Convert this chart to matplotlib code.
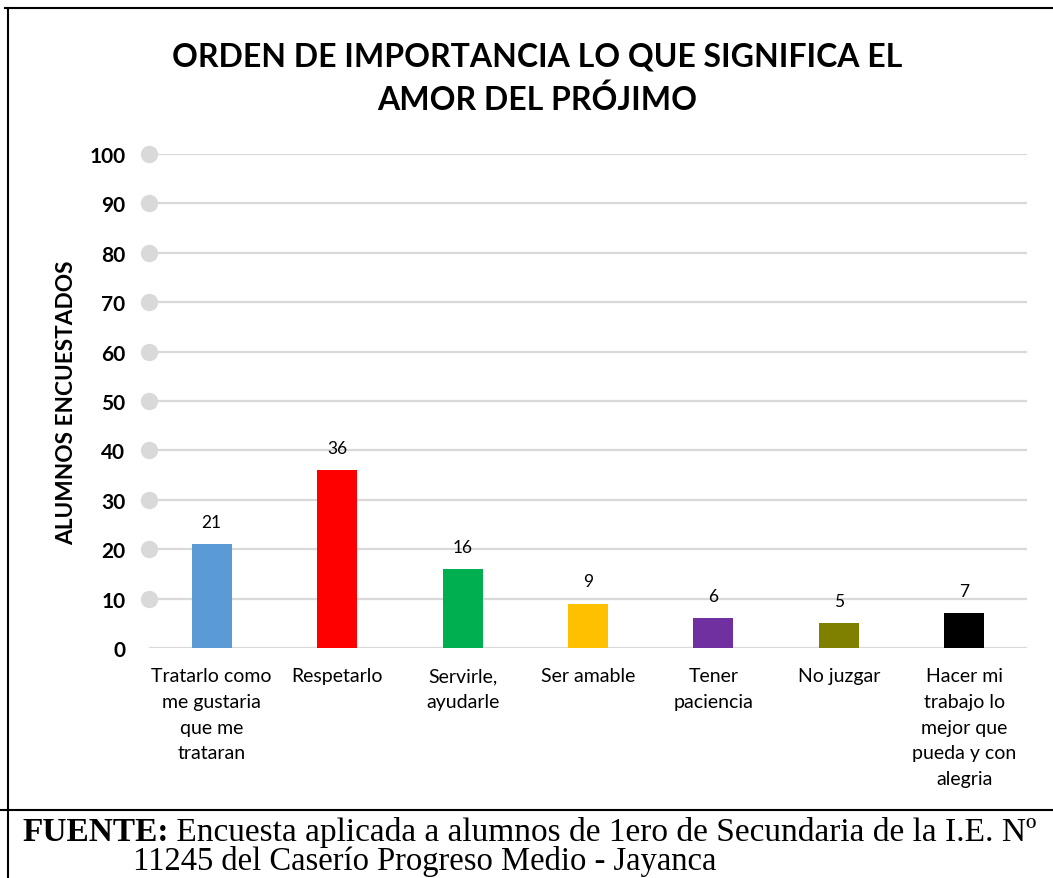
import matplotlib
matplotlib.use("Agg")
import matplotlib.pyplot as plt
from matplotlib.lines import Line2D

categories = ["Tratarlo como\nme gustaria\nque me\ntrataran", "Respetarlo", "Servirle,\nayudarle",
              "Ser amable", "Tener\npaciencia", "No juzgar",
              "Hacer mi\ntrabajo lo\nmejor que\npueda y con\nalegria"]
values = [21, 36, 16, 9, 6, 5, 7]
colors = ["#5B9BD5", "#FF0000", "#00B050", "#FFC000", "#7030A0", "#808000", "#000000"]
yticks = [0, 10, 20, 30, 40, 50, 60, 70, 80, 90, 100]
title_lines = ["ORDEN DE IMPORTANCIA LO QUE SIGNIFICA EL", "AMOR DEL PRÓJIMO"]
ylabel = "ALUMNOS ENCUESTADOS"
footer_bold = "FUENTE:"
footer_rest = " Encuesta aplicada a alumnos de 1ero de Secundaria de la I.E. Nº"
footer_line2 = "11245 del Caserío Progreso Medio - Jayanca"

W, H = 1053, 879
fig = plt.figure(figsize=(W / 100, H / 100), dpi=100)
SANS = ["Lato", "DejaVu Sans"]
SERIF = ["Liberation Serif", "DejaVu Serif"]

def fx(px):
    return px / W

def fy(py):
    return 1 - py / H

ax = fig.add_axes([fx(149), fy(649), fx(1027) - fx(149), fy(155) - fy(649)])
x = list(range(len(categories)))
grid_c = "#D9D9D9"
for t in yticks:
    ax.axhline(t, color=grid_c, lw=1.6, zorder=0)
ax.plot([-0.5] * (len(yticks) - 1), yticks[1:], "o", color=grid_c, ms=11.5,
        clip_on=False, zorder=1)
bars = ax.bar(x, values, width=0.32, color=colors, zorder=2)
for xi, v in zip(x, values):
    ax.annotate(str(v), (xi, v), xytext=(0, 16), textcoords="offset points",
                ha="center", va="center", fontsize=12.5, family=SANS, color="#000000")

ax.set_xlim(-0.5, len(categories) - 0.5)
ax.set_ylim(0, 100)
ax.set_yticks(yticks)
ax.set_yticklabels([str(t) for t in yticks], fontsize=15, fontweight="bold", family=SANS)
ax.set_xticks(x)
ax.set_xticklabels(categories, fontsize=14, family=SANS, linespacing=1.62)
ax.tick_params(axis="y", length=0, pad=17)
ax.tick_params(axis="x", length=0, pad=14)
for s in ax.spines.values():
    s.set_visible(False)

fig.text(fx(537), fy(57), title_lines[0], ha="center", va="center",
         fontsize=23, fontweight="bold", family=SANS)
fig.text(fx(537), fy(100), title_lines[1], ha="center", va="center",
         fontsize=23, fontweight="bold", family=SANS)
fig.text(fx(67), fy(403), ylabel, ha="center", va="center", rotation=90,
         fontsize=16.3, fontweight="bold", family=SANS)

# frame lines
lw = 1.5
fig.add_artist(Line2D([fx(5), fx(1053)], [fy(9), fy(9)], color="black", lw=lw))
fig.add_artist(Line2D([fx(7.5), fx(7.5)], [fy(9), fy(879)], color="black", lw=lw))
fig.add_artist(Line2D([fx(0), fx(1053)], [fy(811), fy(811)], color="black", lw=lw))

# footer
fig.canvas.draw()
r = fig.canvas.get_renderer()
tb = fig.text(fx(22), fy(833), footer_bold, ha="left", va="center",
              fontsize=24, fontweight="bold", family=SERIF)
bb = tb.get_window_extent(renderer=r)
fig.text(bb.x1 / W, fy(833), footer_rest, ha="left", va="center",
         fontsize=24, family=SERIF)
fig.text(fx(133), fy(862), footer_line2, ha="left", va="center",
         fontsize=23.5, family=SERIF)

fig.savefig("out.png", dpi=100)
